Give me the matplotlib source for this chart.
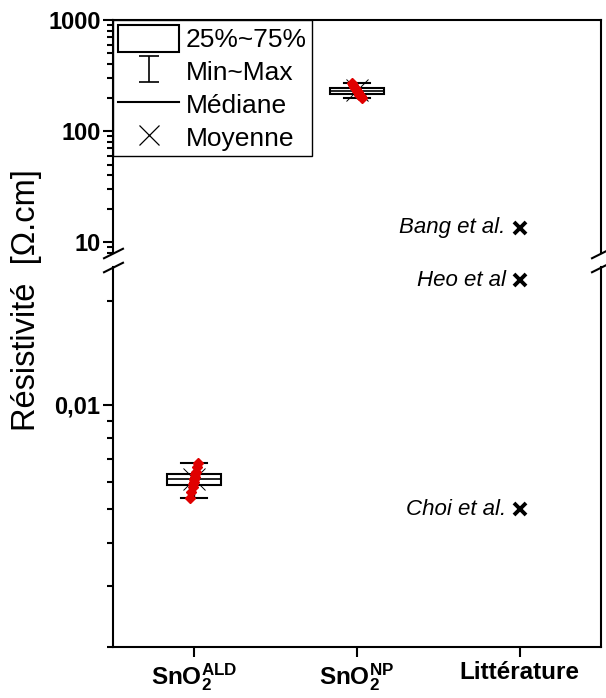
import numpy as np
import matplotlib.pyplot as plt
from matplotlib.lines import Line2D
from matplotlib.patches import Patch

plt.rcParams['font.family'] = ['Liberation Sans', 'DejaVu Sans']
plt.rcParams['mathtext.fontset'] = 'custom'
plt.rcParams['mathtext.rm'] = 'Liberation Sans'
plt.rcParams['mathtext.bf'] = 'Liberation Sans:bold'
plt.rcParams['mathtext.it'] = 'Liberation Sans:italic'

# Data (resistivity, Ohm.cm)
categories = [r'$\mathbf{SnO_2^{ALD}}$', r'$\mathbf{SnO_2^{NP}}$', 'Littérature']
ald_values = [0.0054, 0.0056, 0.0058, 0.0059, 0.0060, 0.0061,
              0.0061, 0.0062, 0.0063, 0.0064, 0.0066, 0.0068]
np_values = [198, 206, 213, 218, 224, 229, 232, 238, 245, 251, 260, 273]
lit_names = ['Bang et al.', 'Heo et al', 'Choi et al.']
lit_values = [13.5, 0.0229, 0.0050]

top_ticks = [10, 100, 1000]
top_labels = ['10', '100', '1000']
bottom_ticks = [0.01]
bottom_labels = ['0,01']
bottom_minor = [0.002, 0.003, 0.004, 0.005, 0.006, 0.007, 0.008, 0.009, 0.02]

fig = plt.figure(figsize=(6.06, 6.98), dpi=100)
ax_top = fig.add_axes([0.1865, 0.6375, 0.805, 0.3338])
ax_bot = fig.add_axes([0.1865, 0.0731, 0.805, 0.5444])

red = '#e00000'
for ax in (ax_top, ax_bot):
    ax.set_yscale('log')
    ax.set_xlim(0.5, 3.5)
    ax.boxplot([ald_values, np_values], positions=[1, 2], widths=0.33,
               capwidths=0.16, whis=(0, 100), showfliers=False, showmeans=True,
               patch_artist=True,
               boxprops=dict(facecolor='white', edgecolor='k', linewidth=1.5),
               medianprops=dict(color='k', linewidth=1.2),
               whiskerprops=dict(color='k', linewidth=1.0),
               capprops=dict(color='k', linewidth=1.5),
               meanprops=dict(marker='x', markeredgecolor='k', markersize=16,
                              markeredgewidth=0.7))
    # data points, spread diagonally like the original
    for pos, vals, slope in [(1, ald_values, 0.5), (2, np_values, -0.45)]:
        vals = np.array(vals)
        xs = pos + slope * (np.log10(vals) - np.log10(np.median(vals)))
        ax.plot(xs, vals, 'D', color=red, markersize=5.5, zorder=5)
    for name, val in zip(lit_names, lit_values):
        ax.plot(3, val, 'x', color='k', markersize=8, markeredgewidth=2.8)
        ax.annotate(name, (3, val), xytext=(-10, 0), textcoords='offset points',
                    ha='right', va='center', fontsize=16, style='italic',
                    annotation_clip=True)
    for s in ax.spines.values():
        s.set_linewidth(1.5)
    ax.tick_params(axis='y', which='major', direction='out', length=7, width=1.5,
                   labelsize=17, pad=2)
    ax.tick_params(axis='y', which='minor', direction='out', length=4, width=1.5)

ax_top.set_ylim(8, 1000)
ax_top.set_yticks(top_ticks, labels=top_labels, fontweight='bold')
ax_top.spines['bottom'].set_visible(False)
ax_top.tick_params(axis='x', bottom=False, labelbottom=False)

ax_bot.set_ylim(0.002, 0.025)
ax_bot.set_yticks(bottom_ticks, labels=bottom_labels, fontweight='bold')
ax_bot.set_yticks(bottom_minor, minor=True)
ax_bot.yaxis.set_minor_formatter(plt.NullFormatter())
ax_bot.spines['top'].set_visible(False)
ax_bot.set_xticks([1, 2, 3], labels=categories, fontsize=17.5, fontweight='bold')
ax_bot.tick_params(axis='x', direction='out', length=7, width=1.5, pad=3)

# break marks
kw = dict(marker=[(-1, -0.5), (1, 0.5)], markersize=15, linestyle='none',
          color='k', mec='k', mew=1.5, clip_on=False)
ax_top.plot([0, 1], [0, 0], transform=ax_top.transAxes, **kw)
ax_bot.plot([0, 1], [1, 1], transform=ax_bot.transAxes, **kw)

fig.text(0.044, 0.57, 'Résistivité  [Ω.cm]', rotation=90, ha='center',
         va='center', fontsize=23.5)

# legend
err = ax_top.errorbar([np.nan], [np.nan], yerr=[1], fmt='none', ecolor='k',
                      elinewidth=1.2, capsize=7, capthick=1.2)
handles = [Patch(facecolor='white', edgecolor='k', linewidth=1.5), err,
           Line2D([], [], color='k', linewidth=1.5),
           Line2D([], [], marker='x', color='k', linestyle='none', markersize=14,
                  markeredgewidth=0.9)]
leg = ax_top.legend(handles, ['25%~75%', 'Min~Max', 'Médiane', 'Moyenne'],
                    loc='upper left', bbox_to_anchor=(0, 1), borderaxespad=0,
                    fontsize=19, fancybox=False, framealpha=1, edgecolor='k',
                    handlelength=2.3, handleheight=1.15, labelspacing=0.22,
                    handletextpad=0.25, borderpad=0.2)
leg.get_frame().set_linewidth(1.0)

fig.savefig('out.png', dpi=100)
